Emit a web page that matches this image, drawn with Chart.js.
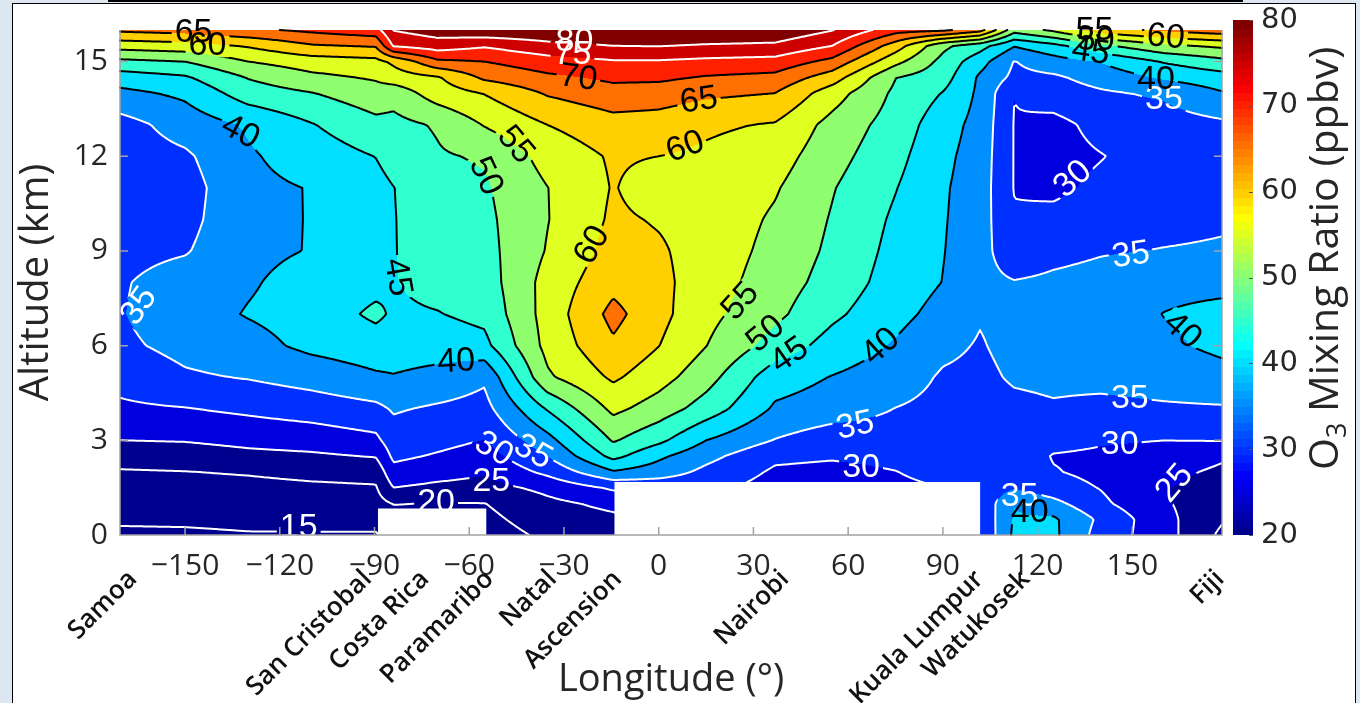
<!DOCTYPE html>
<html lang="en">
<head>
<meta charset="utf-8">
<title>O3 mixing ratio cross-section</title>
<script src="https://cdn.jsdelivr.net/npm/chart.js@4.4.1/dist/chart.umd.min.js"></script>
<style>
  html, body { margin: 0; padding: 0; }
  body { width: 1360px; height: 703px; background: #dde7f2; position: relative; overflow: hidden; }
  .topbar { position: absolute; left: 108px; top: 0; width: 1135px; height: 2px; background: #000; }
  .panel { position: absolute; left: 12px; top: 3px; width: 1342px; height: 720px; background: #fff; border: 1px solid #000; }
  canvas { position: absolute; left: 0; top: 0; }
</style>
</head>
<body>
<div class="topbar"></div>
<div class="panel"></div>
<canvas id="o3chart" width="1360" height="703"></canvas>
<script>
'use strict';

// ── Data ────────────────────────────────────────────────────────
// Longitudes (deg) of the ozone profiles: the sonde stations plus
// a few columns in between them.
const profileLons = [-170.6, -150, -130, -110, -89.6, -84, -70, -55.2, -35.3, -14.4,
                     0, 15, 36.8, 55, 75, 90, 101.7, 112.6, 125, 140, 160, 178.4];

// Altitudes (km) of the profile rows.
const altitudes = [0, 0.5, 1, 1.5, 2, 2.5, 3, 4, 5, 6, 7, 8, 9, 10, 11, 12, 13, 14, 14.5, 15, 15.5, 16];

// O3 mixing ratio (ppbv), bottom to top, one array per longitude.
const samoa        = [14.2, 15.6, 17.0, 18.3, 19.6, 22.0, 25.0, 29.2, 31.5, 34.0, 34.7, 34.5, 33.5, 32.5, 32.0, 32.5, 33.0, 38.7, 42.5, 48.8, 57.0, 66.0];
const lon150W      = [14.3, 15.7, 17.0, 18.4, 19.9, 22.3, 25.3, 29.8, 34.3, 36.5, 38.0, 37.3, 34.6, 33.5, 33.0, 34.2, 37.2, 41.0, 44.4, 50.0, 58.0, 67.0];
const lon130W      = [14.7, 16.0, 17.3, 18.7, 20.4, 23.6, 26.4, 31.0, 35.3, 38.3, 40.3, 39.5, 38.9, 38.7, 38.8, 39.4, 40.6, 47.5, 50.3, 55.0, 60.5, 69.0];
const lon110W      = [14.7, 16.2, 17.6, 19.2, 21.2, 24.2, 27.2, 32.2, 37.0, 41.2, 42.0, 41.8, 40.2, 40.2, 40.2, 42.3, 44.7, 49.8, 53.8, 57.5, 64.5, 71.0];
const sanCristobal = [14.6, 16.5, 18.3, 19.6, 21.6, 25.3, 28.8, 33.8, 39.3, 42.7, 46.0, 43.5, 42.5, 42.5, 43.3, 45.1, 48.6, 53.0, 55.6, 58.5, 65.5, 73.0];
const costaRica    = [17.0, 18.0, 20.2, 25.0, 28.5, 31.0, 32.8, 35.5, 39.7, 42.5, 44.3, 44.8, 44.8, 44.8, 44.9, 47.0, 48.5, 52.0, 57.5, 61.0, 75.5, 80.2];
const lon70W       = [17.0, 18.5, 19.8, 23.8, 27.0, 29.5, 31.5, 34.3, 38.4, 42.3, 44.8, 46.5, 47.3, 47.8, 48.3, 49.5, 50.5, 57.5, 59.5, 69.0, 77.5, 82.5];
const paramaribo   = [17.5, 18.7, 19.9, 23.2, 25.6, 27.8, 29.9, 33.3, 35.8, 43.6, 46.3, 47.5, 48.3, 48.8, 49.4, 50.5, 55.3, 60.2, 66.0, 70.0, 75.5, 84.0];
const natal        = [21.0, 22.5, 23.8, 26.3, 31.2, 35.0, 38.2, 45.4, 54.2, 56.5, 57.0, 56.8, 55.3, 54.8, 54.9, 56.8, 60.0, 65.5, 69.0, 72.8, 78.5, 84.0];
const ascension    = [22.5, 24.0, 26.2, 30.8, 39.5, 46.5, 50.5, 56.2, 60.8, 64.2, 66.5, 63.5, 61.8, 60.8, 60.3, 60.6, 63.0, 68.2, 71.0, 74.5, 80.0, 85.0];
const lon0         = [24.0, 26.0, 28.5, 31.5, 37.5, 41.0, 46.2, 52.7, 57.0, 60.1, 61.5, 61.3, 60.6, 59.6, 57.5, 60.0, 62.6, 67.6, 71.0, 74.5, 80.2, 84.5];
const lon15E       = [25.0, 27.0, 29.0, 31.5, 33.8, 36.5, 40.0, 47.8, 52.0, 55.1, 56.5, 57.5, 58.0, 58.3, 58.5, 59.2, 60.8, 66.0, 69.6, 73.8, 79.5, 84.5];
const nairobi      = [25.0, 26.0, 27.0, 28.0, 29.3, 31.0, 34.8, 39.3, 42.2, 48.0, 51.2, 52.5, 53.5, 54.3, 55.5, 57.3, 59.6, 65.0, 68.6, 73.2, 79.0, 84.0];
const lon55E       = [24.0, 25.0, 26.0, 27.5, 28.7, 30.5, 32.0, 37.7, 39.8, 43.0, 46.0, 48.0, 49.0, 49.6, 50.3, 51.8, 53.3, 57.3, 62.5, 68.5, 75.0, 80.2];
const lon75E       = [27.0, 28.0, 28.5, 29.0, 29.9, 31.2, 32.6, 34.9, 37.5, 39.5, 41.5, 42.8, 43.5, 44.2, 45.2, 46.5, 47.8, 49.0, 50.1, 56.5, 62.5, 72.0];
const lon90E       = [28.0, 28.5, 29.0, 30.0, 31.5, 32.2, 32.8, 33.6, 34.4, 36.2, 38.3, 39.9, 40.2, 40.4, 40.6, 41.2, 42.2, 44.8, 47.2, 48.5, 51.2, 71.0];
const kualaLumpur  = [30.0, 30.5, 31.0, 31.5, 31.8, 32.1, 32.4, 33.0, 33.8, 34.6, 35.4, 36.5, 37.0, 37.3, 37.5, 37.8, 38.3, 39.0, 39.2, 42.0, 47.0, 67.0];
const watukosek    = [41.0, 40.5, 39.8, 34.5, 33.0, 33.0, 32.8, 33.8, 35.6, 36.5, 36.5, 35.3, 31.5, 30.4, 29.8, 29.8, 29.8, 30.05, 33.8, 34.8, 40.3, 52.0];
const lon125E      = [41.0, 40.8, 36.5, 32.0, 30.3, 29.7, 31.5, 34.5, 36.0, 36.8, 37.0, 36.0, 33.5, 31.3, 29.0, 28.3, 28.5, 32.5, 34.2, 37.8, 43.5, 56.0];
const lon140E      = [33.0, 34.0, 31.0, 29.8, 28.8, 29.2, 30.5, 33.8, 36.3, 37.5, 37.6, 36.8, 34.6, 32.5, 31.0, 29.8, 31.5, 34.3, 37.0, 40.3, 49.0, 63.0];
const lon160E      = [27.0, 26.5, 25.6, 25.3, 26.5, 28.5, 30.0, 34.3, 37.2, 39.2, 40.1, 38.5, 35.2, 33.5, 32.5, 32.2, 32.8, 35.8, 40.8, 45.4, 54.0, 66.0];
const fiji         = [19.0, 20.5, 21.5, 23.0, 24.0, 25.8, 30.2, 34.5, 38.5, 41.0, 41.5, 38.5, 35.6, 34.3, 33.5, 33.5, 34.0, 39.6, 43.0, 48.5, 56.0, 68.0];

const profiles = [samoa, lon150W, lon130W, lon110W, sanCristobal, costaRica, lon70W, paramaribo,
                  natal, ascension, lon0, lon15E, nairobi, lon55E, lon75E, lon90E, kualaLumpur,
                  watukosek, lon125E, lon140E, lon160E, fiji];

// Station names along the bottom and the longitude each rotated name ends at.
const stationNames     = ['Samoa', 'San Cristobal', 'Costa Rica', 'Paramaribo', 'Natal',
                          'Ascension', 'Nairobi', 'Kuala Lumpur', 'Watukosek', 'Fiji'];
const stationLabelLons = [-166.5, -92.2, -74.0, -53.6, -33.6, -13.0, 40.0, 101.6, 116.3, 177.8];

const xTickValues   = [-150, -120, -90, -60, -30, 0, 30, 60, 90, 120, 150];
const yTickValues   = [0, 3, 6, 9, 12, 15];
const contourLevels = [15, 20, 25, 30, 35, 40, 45, 50, 55, 60, 65, 70, 75, 80];
const colorbarTicks = [20, 30, 40, 50, 60, 70, 80];

// Surface areas without data (blanked).
const noDataLons = [[-88.9, -54.6], [-14.0, 101.8]];
const noDataTops = [0.84, 1.68];

// Inline contour labels.
const labelValues = [65, 60, 40, 55, 50, 80, 75, 70, 65, 60, 60, 45, 40, 55, 50, 45, 40,
                     35, 35, 30, 25, 20, 15, 35, 30, 35, 40, 30, 25, 35, 35, 40, 30, 35, 40, 60, 55, 50, 45];
const labelLons   = [-147.3, -142.9, -132.4, -45.1, -54.6, -26.7, -27.3, -25.4, 12.7, 8.3, -21.3, -82.5, -64.1,
                     25.7, 33.7, 41.3, 70.2, -164.8, -39.7, -52.1, -53.0, -70.5, -114.0, 62.2, 64.1,
                     114.3, 117.5, 146.0, 163.2, 149.2, 149.5, 166.0, 131.0, 160.0, 157.5, 160.6, 138.0, 138.4, 136.8];
const labelAlts   = [15.95, 15.55, 12.79, 12.38, 11.38, 15.66, 15.25, 14.5, 13.79, 12.32, 9.2, 8.17, 5.52,
                     7.42, 6.39, 5.71, 5.99, 7.27, 2.65, 2.74, 1.72, 1.06, 0.28, 3.49, 2.18,
                     1.25, 0.75, 2.9, 1.65, 4.34, 8.89, 6.49, 11.29, 13.82, 14.45, 15.8, 16.02, 15.68, 15.33];
const labelAngles = [0, 0, 28, 50, 65, 0, 0, 8, -8, -20, -60, 80, -3,
                     -48, -40, -35, -42, -55, 30, 30, 0, 0, 0, -12, 0,
                     0, 0, 0, -50, 0, -8, 42, -42, 0, 0, 5, 0, 0, 8];

// ── Helpers ─────────────────────────────────────────────────────
const LABEL_FONT = '34px "Liberation Sans", Arial, sans-serif';
const TEXT_COLOR = '#262626';

// MATLAB-style 64 colour jet map.
function jet64(index) {
  const u = k => (k < 1 || k > 47) ? 0 : k <= 16 ? k / 16 : k <= 31 ? 1 : (48 - k) / 16;
  return [u(index - 24), u(index - 8), u(index + 8)].map(c => Math.round(c * 255));
}
const JET = Array.from({ length: 64 }, (_, i) => jet64(i + 1));

// Colour of a filled band: the band's lower level on a 20–80 colour axis.
function bandColor(v) {
  const level = Math.floor(v / 5) * 5;
  const idx = Math.min(64, Math.max(1, Math.floor((level - 20) / 60 * 64) + 1));
  return JET[idx - 1];
}

function lineColor(level) {
  return (level <= 35 || level >= 75) ? '#ffffff' : '#000000';
}

function locate(grid, v) {
  const n = grid.length;
  if (v <= grid[0]) return [0, 0];
  if (v >= grid[n - 1]) return [n - 2, 1];
  let k = 0;
  while (grid[k + 1] < v) k++;
  return [k, (v - grid[k]) / (grid[k + 1] - grid[k])];
}

function o3At(lon, alt) {
  const [i, f] = locate(profileLons, lon);
  const [j, g] = locate(altitudes, alt);
  const a = profiles[i], b = profiles[i + 1];
  return (a[j] * (1 - f) + b[j] * f) * (1 - g) + (a[j + 1] * (1 - f) + b[j + 1] * f) * g;
}

function labelBoxes(chart) {
  const { ctx, scales: { x, y } } = chart;
  ctx.save();
  ctx.font = LABEL_FONT;
  const boxes = labelValues.map((v, k) => {
    const cx = x.getPixelForValue(labelLons[k]);
    const cy = y.getPixelForValue(labelAlts[k]);
    const hw = ctx.measureText(String(v)).width / 2 + 3;
    const hh = 13;
    const a = labelAngles[k] * Math.PI / 180;
    const c = Math.cos(a), s = Math.sin(a);
    const corners = [[-hw, -hh], [hw, -hh], [hw, hh], [-hw, hh]]
      .map(([dx, dy]) => [cx + dx * c - dy * s, cy + dx * s + dy * c]);
    return { v, cx, cy, a, corners };
  });
  ctx.restore();
  return boxes;
}

// ── Plugin: filled contours, contour lines, labels, colour bar ───
const ozoneField = {
  id: 'ozoneField',

  beforeDatasetsDraw(chart) {
    const { ctx, chartArea: area, scales: { x, y } } = chart;
    const left = Math.round(area.left), top = Math.round(area.top);
    const w = Math.round(area.right) - left, h = Math.round(area.bottom) - top;

    // Filled bands, sampled at every pixel through the scales.
    const lonAt = Array.from({ length: w }, (_, i) => x.getValueForPixel(left + i + 0.5));
    const img = ctx.createImageData(w, h);
    for (let j = 0; j < h; j++) {
      const alt = y.getValueForPixel(top + j + 0.5);
      for (let i = 0; i < w; i++) {
        const c = bandColor(o3At(lonAt[i], alt));
        const p = (j * w + i) * 4;
        img.data[p] = c[0]; img.data[p + 1] = c[1]; img.data[p + 2] = c[2]; img.data[p + 3] = 255;
      }
    }
    ctx.putImageData(img, left, top);

    // Contour lines by marching squares on a fine grid.
    const step = 2;
    const nx = Math.ceil(w / step) + 1, ny = Math.ceil(h / step) + 1;
    const px = i => Math.min(left + i * step, left + w);
    const py = j => Math.min(top + j * step, top + h);
    const field = new Float32Array(nx * ny);
    for (let j = 0; j < ny; j++) {
      const alt = y.getValueForPixel(py(j));
      for (let i = 0; i < nx; i++) field[j * nx + i] = o3At(x.getValueForPixel(px(i)), alt);
    }

    const off = document.createElement('canvas');
    off.width = chart.width; off.height = chart.height;
    const oc = off.getContext('2d');
    oc.lineWidth = 2;
    oc.lineJoin = 'round';
    oc.lineCap = 'round';

    for (const level of contourLevels) {
      oc.beginPath();
      for (let j = 0; j < ny - 1; j++) {
        for (let i = 0; i < nx - 1; i++) {
          const v0 = field[j * nx + i], v1 = field[j * nx + i + 1];
          const v2 = field[(j + 1) * nx + i + 1], v3 = field[(j + 1) * nx + i];
          const code = (v0 >= level ? 8 : 0) | (v1 >= level ? 4 : 0) | (v2 >= level ? 2 : 0) | (v3 >= level ? 1 : 0);
          if (code === 0 || code === 15) continue;
          const x0 = px(i), x1 = px(i + 1), y0 = py(j), y1 = py(j + 1);
          const pts = [];
          if ((v0 >= level) !== (v1 >= level)) pts[0] = [x0 + (x1 - x0) * (level - v0) / (v1 - v0), y0];
          if ((v1 >= level) !== (v2 >= level)) pts[1] = [x1, y0 + (y1 - y0) * (level - v1) / (v2 - v1)];
          if ((v3 >= level) !== (v2 >= level)) pts[2] = [x0 + (x1 - x0) * (level - v3) / (v2 - v3), y1];
          if ((v0 >= level) !== (v3 >= level)) pts[3] = [x0, y0 + (y1 - y0) * (level - v0) / (v3 - v0)];
          const edges = [0, 1, 2, 3].filter(e => pts[e]);
          let pairs;
          if (edges.length === 2) {
            pairs = [edges];
          } else {
            const centerHigh = (v0 + v1 + v2 + v3) / 4 >= level;
            pairs = ((v0 >= level) === centerHigh) ? [[0, 1], [2, 3]] : [[3, 0], [1, 2]];
          }
          for (const [a, b] of pairs) {
            oc.moveTo(pts[a][0], pts[a][1]);
            oc.lineTo(pts[b][0], pts[b][1]);
          }
        }
      }
      oc.strokeStyle = lineColor(level);
      oc.stroke();
    }

    // Break the lines where the inline labels sit.
    oc.globalCompositeOperation = 'destination-out';
    for (const box of labelBoxes(chart)) {
      oc.beginPath();
      box.corners.forEach(([cx, cy], k) => (k ? oc.lineTo(cx, cy) : oc.moveTo(cx, cy)));
      oc.closePath();
      oc.fill();
    }
    ctx.drawImage(off, 0, 0);

    // Blank out the surface areas without data.
    ctx.fillStyle = '#ffffff';
    noDataLons.forEach(([a, b], k) => {
      const xa = x.getPixelForValue(a), xb = x.getPixelForValue(b);
      const yt = y.getPixelForValue(noDataTops[k]), yb = y.getPixelForValue(0);
      ctx.fillRect(xa, yt, xb - xa, yb - yt + 1);
    });
  },

  afterDatasetsDraw(chart) {
    const { ctx, chartArea: area, scales: { x, y } } = chart;

    // Inline contour labels.
    ctx.save();
    ctx.font = LABEL_FONT;
    ctx.textAlign = 'center';
    ctx.textBaseline = 'middle';
    for (const box of labelBoxes(chart)) {
      ctx.save();
      ctx.translate(box.cx, box.cy);
      ctx.rotate(box.a);
      ctx.fillStyle = lineColor(box.v);
      ctx.fillText(String(box.v), 0, 1);
      ctx.restore();
    }
    ctx.restore();

    // Axis box (left, bottom, right) with inward ticks.
    ctx.save();
    ctx.strokeStyle = '#a3a3a3';
    ctx.lineWidth = 1.5;
    ctx.beginPath();
    ctx.moveTo(area.left, area.top);
    ctx.lineTo(area.left, area.bottom);
    ctx.lineTo(area.right, area.bottom);
    ctx.lineTo(area.right, area.top);
    for (const v of xTickValues) {
      const p = x.getPixelForValue(v);
      ctx.moveTo(p, area.bottom);
      ctx.lineTo(p, area.bottom - 8);
    }
    for (const v of yTickValues) {
      const p = y.getPixelForValue(v);
      ctx.moveTo(area.left, p);
      ctx.lineTo(area.left + 8, p);
      ctx.moveTo(area.right, p);
      ctx.lineTo(area.right - 8, p);
    }
    ctx.stroke();
    ctx.restore();

    // Station names under the axis.
    ctx.save();
    ctx.font = '600 26px "Open Sans", sans-serif';
    ctx.fillStyle = '#111111';
    ctx.textAlign = 'right';
    ctx.textBaseline = 'middle';
    stationNames.forEach((name, k) => {
      ctx.save();
      ctx.translate(x.getPixelForValue(stationLabelLons[k]), 575);
      ctx.rotate(-Math.PI / 4);
      ctx.fillText(name, 0, 0);
      ctx.restore();
    });
    ctx.restore();

    // Colour bar.
    const cbLeft = 1233, cbRight = 1253, cbTop = 20, cbBottom = 535;
    const cbY = v => cbBottom - (v - 20) / 60 * (cbBottom - cbTop);
    ctx.save();
    JET.forEach(([r, g, b], i) => {
      const y0 = cbBottom - (i + 1) * (cbBottom - cbTop) / 64;
      const y1 = cbBottom - i * (cbBottom - cbTop) / 64;
      ctx.fillStyle = `rgb(${r},${g},${b})`;
      ctx.fillRect(cbLeft, Math.floor(y0), cbRight - cbLeft, Math.ceil(y1) - Math.floor(y0));
    });
    ctx.strokeStyle = '#555555';
    ctx.lineWidth = 1;
    ctx.beginPath();
    for (const v of colorbarTicks) {
      const p = Math.round(cbY(v)) + 0.5;
      ctx.moveTo(cbRight, p);
      ctx.lineTo(cbRight - 4, p);
    }
    ctx.stroke();
    ctx.fillStyle = TEXT_COLOR;
    ctx.font = '29px "DejaVu Sans", sans-serif';
    ctx.textAlign = 'left';
    ctx.textBaseline = 'middle';
    for (const v of colorbarTicks) ctx.fillText(String(v), 1261, cbY(v));

    // Colour bar title with subscript.
    ctx.translate(1326, 470);
    ctx.rotate(-Math.PI / 2);
    ctx.textBaseline = 'middle';
    ctx.font = '41px "Open Sans", sans-serif';
    ctx.fillText('O', 0, 0);
    let off = ctx.measureText('O').width;
    ctx.font = '27px "Open Sans", sans-serif';
    ctx.fillText('3', off, 12);
    off += ctx.measureText('3').width;
    ctx.font = '41px "Open Sans", sans-serif';
    ctx.fillText(' Mixing Ratio (ppbv)', off, 0);
    ctx.restore();
  },
};

// ── Chart ───────────────────────────────────────────────────────
const tickFont = { family: '"Open Sans", sans-serif', size: 30 };
const minus = v => (v < 0 ? '\u2212' + Math.abs(v) : String(v));

new Chart(document.getElementById('o3chart'), {
  type: 'scatter',
  data: { datasets: [] },
  options: {
    responsive: false,
    animation: false,
    devicePixelRatio: 1,
    layout: { padding: { top: 22, right: 138, bottom: 0, left: 0 } },
    plugins: { legend: { display: false }, tooltip: { enabled: false } },
    scales: {
      x: {
        type: 'linear',
        min: -170.6,
        max: 178.4,
        afterBuildTicks: scale => { scale.ticks = xTickValues.map(value => ({ value })); },
        afterFit: scale => { scale.height = 168; },
        grid: { display: false, drawTicks: false },
        border: { display: false },
        ticks: { font: tickFont, color: TEXT_COLOR, padding: 13, maxRotation: 0, autoSkip: false, callback: minus },
        title: {
          display: true,
          text: 'Longitude (°)',
          color: TEXT_COLOR,
          font: { family: '"Open Sans", sans-serif', size: 38 },
          padding: { top: 0, bottom: 0 },
        },
      },
      y: {
        type: 'linear',
        min: 0,
        max: 16,
        afterBuildTicks: scale => { scale.ticks = yTickValues.map(value => ({ value })); },
        afterFit: scale => { scale.width = 120; },
        grid: { display: false, drawTicks: false },
        border: { display: false },
        ticks: { font: tickFont, color: TEXT_COLOR, padding: 12, autoSkip: false, callback: minus },
        title: {
          display: true,
          text: 'Altitude (km)',
          color: TEXT_COLOR,
          font: { family: '"Open Sans", sans-serif', size: 40 },
          padding: { top: 13, bottom: 0 },
        },
      },
    },
  },
  plugins: [ozoneField],
});
</script>
</body>
</html>
